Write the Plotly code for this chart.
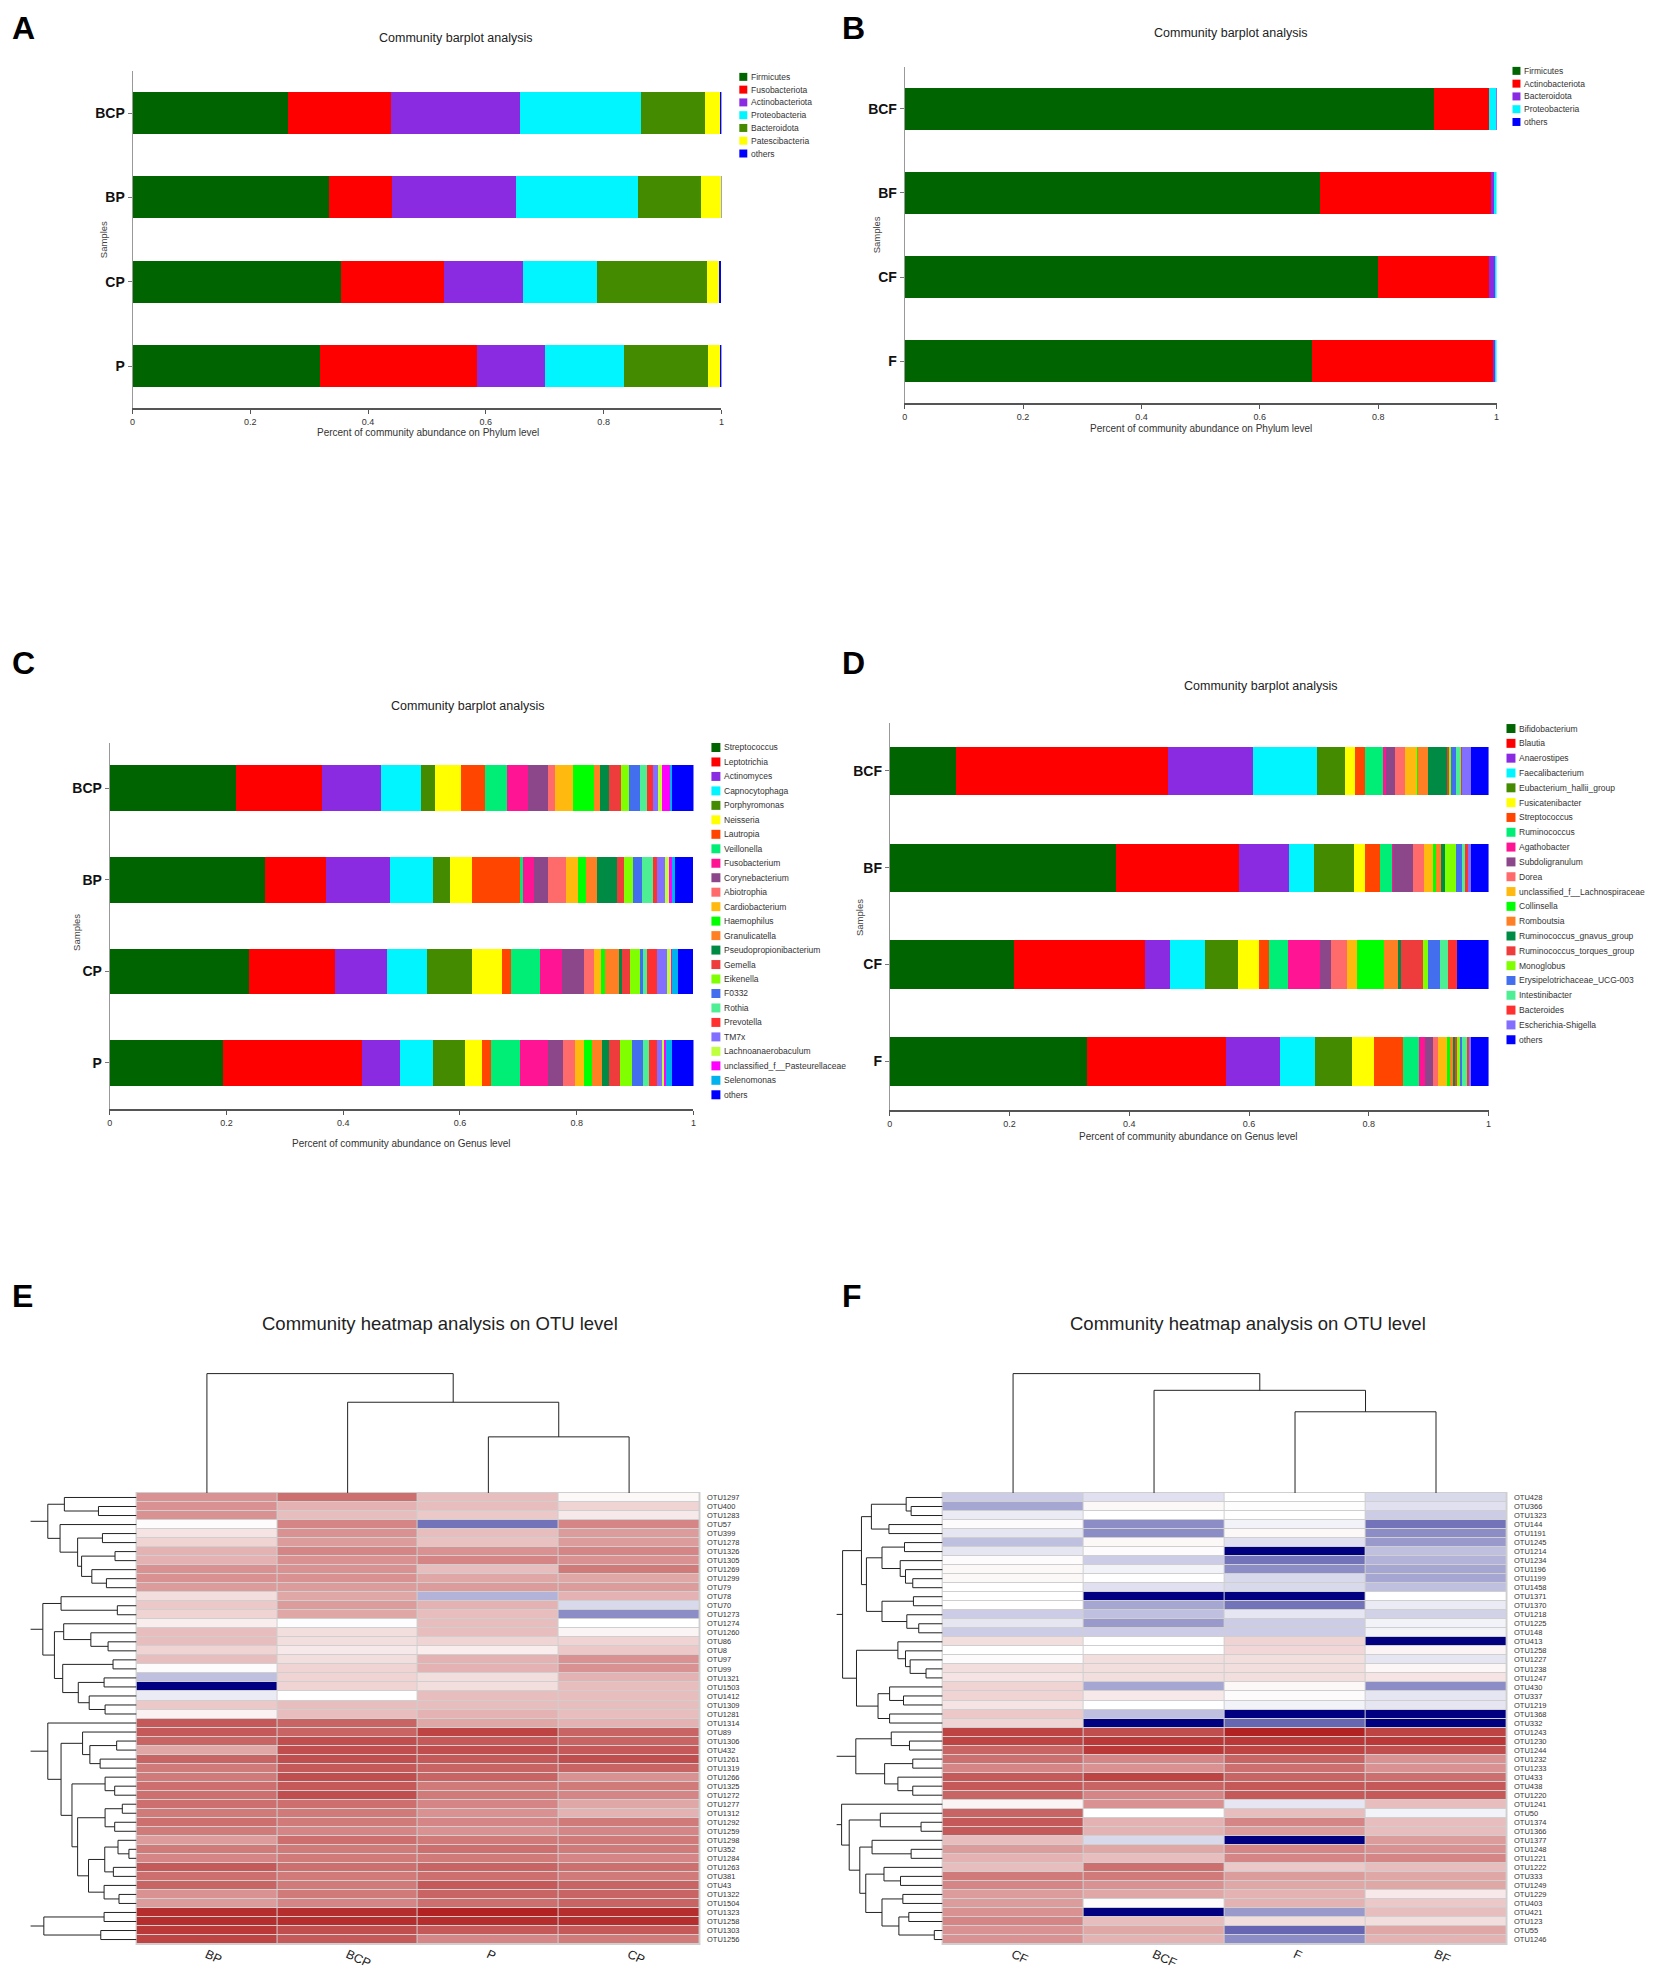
import plotly.graph_objects as go

W, H = 1654, 1979
PAD = 8  # page body margin of the html page
FIG_W, FIG_H = W - 2 * PAD, H - 2 * PAD
NARROW = "Liberation Sans Narrow, Arial Narrow, Liberation Sans, Arial, sans-serif"
SANS = "Liberation Sans, Arial, sans-serif"

# ---------------- data ----------------
# A: phylum level, P group
samples_A = ["BCP", "BP", "CP", "P"]
phyla_A = ["Firmicutes", "Fusobacteriota", "Actinobacteriota", "Proteobacteria",
           "Bacteroidota", "Patescibacteria", "others"]
abund_A = [
    [0.264, 0.175, 0.219, 0.206, 0.108, 0.025, 0.003],
    [0.334, 0.107, 0.211, 0.207, 0.106, 0.034, 0.001],
    [0.354, 0.175, 0.134, 0.126, 0.187, 0.020, 0.004],
    [0.318, 0.267, 0.115, 0.135, 0.142, 0.020, 0.003],
]

# B: phylum level, F group
samples_B = ["BCF", "BF", "CF", "F"]
phyla_B = ["Firmicutes", "Actinobacteriota", "Bacteroidota", "Proteobacteria", "others"]
abund_B = [
    [0.894, 0.093, 0.001, 0.011, 0.001],
    [0.702, 0.288, 0.006, 0.004, 0.000],
    [0.800, 0.188, 0.009, 0.003, 0.000],
    [0.688, 0.307, 0.002, 0.003, 0.000],
]

# C: genus level, P group
samples_C = ["BCP", "BP", "CP", "P"]
genera_C = ["Streptococcus", "Leptotrichia", "Actinomyces", "Capnocytophaga", "Porphyromonas",
            "Neisseria", "Lautropia", "Veillonella", "Fusobacterium", "Corynebacterium",
            "Abiotrophia", "Cardiobacterium", "Haemophilus", "Granulicatella",
            "Pseudopropionibacterium", "Gemella", "Eikenella", "F0332", "Rothia", "Prevotella",
            "TM7x", "Lachnoanaerobaculum", "unclassified_f__Pasteurellaceae", "Selenomonas", "others"]
abund_C = [
    [0.217, 0.147, 0.101, 0.069, 0.024, 0.043, 0.042, 0.037, 0.037, 0.034, 0.012, 0.030, 0.037,
     0.010, 0.016, 0.020, 0.014, 0.018, 0.013, 0.009, 0.009, 0.007, 0.014, 0.004, 0.037],
    [0.266, 0.105, 0.109, 0.073, 0.030, 0.037, 0.083, 0.005, 0.018, 0.024, 0.032, 0.020, 0.014,
     0.019, 0.034, 0.012, 0.015, 0.015, 0.020, 0.007, 0.014, 0.006, 0.006, 0.004, 0.031],
    [0.239, 0.147, 0.089, 0.069, 0.077, 0.051, 0.015, 0.050, 0.037, 0.038, 0.018, 0.011, 0.008,
     0.023, 0.006, 0.014, 0.016, 0.005, 0.008, 0.017, 0.016, 0.007, 0.002, 0.011, 0.025],
    [0.195, 0.237, 0.066, 0.056, 0.055, 0.029, 0.015, 0.050, 0.048, 0.026, 0.020, 0.015, 0.014,
     0.017, 0.013, 0.018, 0.020, 0.020, 0.010, 0.013, 0.009, 0.004, 0.003, 0.010, 0.038],
]

# D: genus level, F group
samples_D = ["BCF", "BF", "CF", "F"]
genera_D = ["Bifidobacterium", "Blautia", "Anaerostipes", "Faecalibacterium",
            "Eubacterium_hallii_group", "Fusicatenibacter", "Streptococcus", "Ruminococcus",
            "Agathobacter", "Subdoligranulum", "Dorea", "unclassified_f__Lachnospiraceae",
            "Collinsella", "Romboutsia", "Ruminococcus_gnavus_group", "Ruminococcus_torques_group",
            "Monoglobus", "Erysipelotrichaceae_UCG-003", "Intestinibacter", "Bacteroides",
            "Escherichia-Shigella", "others"]
abund_D = [
    [0.111, 0.353, 0.142, 0.107, 0.048, 0.016, 0.016, 0.031, 0.004, 0.016, 0.016, 0.021, 0.001,
     0.017, 0.032, 0.003, 0.003, 0.008, 0.010, 0.001, 0.015, 0.030],
    [0.378, 0.205, 0.083, 0.042, 0.067, 0.019, 0.024, 0.022, 0.001, 0.033, 0.018, 0.016, 0.005,
     0.008, 0.006, 0.001, 0.017, 0.011, 0.004, 0.006, 0.004, 0.030],
    [0.208, 0.218, 0.042, 0.058, 0.056, 0.035, 0.016, 0.032, 0.053, 0.019, 0.027, 0.016, 0.046,
     0.024, 0.003, 0.038, 0.008, 0.020, 0.013, 0.015, 0.001, 0.052],
    [0.330, 0.232, 0.090, 0.058, 0.062, 0.037, 0.048, 0.027, 0.010, 0.014, 0.007, 0.015, 0.006,
     0.004, 0.005, 0.003, 0.004, 0.003, 0.010, 0.002, 0.003, 0.031],
]

# E: OTU heatmap, P group (scaled abundance, -1 = low ... 1 = high)
cols_E = ["BP", "BCP", "P", "CP"]
otus_E = ["OTU1297", "OTU400", "OTU1283", "OTU57", "OTU399", "OTU1278", "OTU1326", "OTU1305",
          "OTU1269", "OTU1299", "OTU79", "OTU78", "OTU70", "OTU1273", "OTU1274", "OTU1260",
          "OTU86", "OTU8", "OTU97", "OTU99", "OTU1321", "OTU1503", "OTU1412", "OTU1309",
          "OTU1281", "OTU1314", "OTU89", "OTU1306", "OTU432", "OTU1261", "OTU1319", "OTU1266",
          "OTU1325", "OTU1272", "OTU1277", "OTU1312", "OTU1292", "OTU1259", "OTU1298", "OTU352",
          "OTU1284", "OTU1263", "OTU381", "OTU43", "OTU1322", "OTU1504", "OTU1323", "OTU1258",
          "OTU1303", "OTU1256"]
z_E = [
    [0.50, 0.65, 0.30, 0.03], [0.50, 0.35, 0.30, 0.20], [0.50, 0.30, 0.25, 0.10],
    [0.02, 0.55, -0.55, 0.55], [0.12, 0.50, 0.30, 0.45], [0.20, 0.45, 0.28, 0.45],
    [0.35, 0.55, 0.50, 0.55], [0.35, 0.50, 0.55, 0.50], [0.50, 0.50, 0.30, 0.60],
    [0.50, 0.50, 0.40, 0.40], [0.45, 0.45, 0.45, 0.45], [0.15, 0.40, -0.30, 0.35],
    [0.25, 0.45, 0.35, -0.15], [0.20, 0.40, 0.30, -0.45], [0.08, 0.01, 0.30, 0.00],
    [0.30, 0.15, 0.30, 0.05], [0.30, 0.15, 0.20, 0.20], [0.20, 0.10, 0.08, 0.25],
    [0.30, 0.15, 0.35, 0.50], [0.02, 0.20, 0.35, 0.50], [-0.25, 0.20, 0.15, 0.35],
    [-1.00, 0.20, 0.15, 0.30], [-0.08, 0.00, 0.30, 0.30], [0.25, 0.30, 0.30, 0.30],
    [0.06, 0.30, 0.35, 0.30], [0.75, 0.70, 0.40, 0.35], [0.75, 0.70, 0.85, 0.70],
    [0.70, 0.80, 0.75, 0.70], [0.40, 0.80, 0.80, 0.75], [0.70, 0.80, 0.75, 0.80],
    [0.60, 0.75, 0.70, 0.70], [0.60, 0.80, 0.70, 0.50], [0.65, 0.75, 0.60, 0.60],
    [0.65, 0.80, 0.60, 0.55], [0.65, 0.65, 0.55, 0.40], [0.60, 0.60, 0.50, 0.35],
    [0.65, 0.60, 0.55, 0.60], [0.60, 0.55, 0.50, 0.55], [0.45, 0.65, 0.60, 0.60],
    [0.60, 0.60, 0.65, 0.60], [0.55, 0.60, 0.60, 0.55], [0.75, 0.65, 0.70, 0.65],
    [0.65, 0.60, 0.65, 0.60], [0.70, 0.60, 0.75, 0.70], [0.50, 0.60, 0.70, 0.70],
    [0.45, 0.55, 0.65, 0.70], [0.95, 0.95, 1.00, 0.95], [0.95, 0.95, 0.95, 0.95],
    [0.90, 0.80, 0.75, 0.75], [0.85, 0.75, 0.55, 0.60],
]
# linkage trees: [height, left, right], leaves are row / column indices
coltree_E = [1.0, 0, [0.76, 1, [0.47, 2, 3]]]
rowtrees_E = [
    [268, [218, 0, [115, 1, 2]], [231, 3, [178, [103, 4, 5], [166, [65, 6, 7], [135, 8, [91, 9, 10]]]]]],
    [283, [228, 11, [58, 12, 13]],
     [248, [220, 14, [138, 15, [86, 16, 17]]], [223, [71, 18, 19], [176, [98, 20, 21], [143, 22, [95, 23, 24]]]]]],
    [268, 25, [228, [163, 26, [141, [60, 27, 28], [110, 29, 30]]],
               [195, [95, 31, [66, 32, 33]],
                [178, [95, [43, 34, 35], [66, 36, 37]],
                 [145, [96, [56, 38, [23, 39, 40]], [70, 41, 42]], [98, 43, [53, 44, 45]]]]]]],
    [280, [98, 46, 47], [108, 48, 49]],
]

# F: OTU heatmap, F group
cols_F = ["CF", "BCF", "F", "BF"]
otus_F = ["OTU428", "OTU366", "OTU1323", "OTU144", "OTU1191", "OTU1245", "OTU1214", "OTU1234",
          "OTU1196", "OTU1199", "OTU1458", "OTU1371", "OTU1370", "OTU1218", "OTU1225", "OTU148",
          "OTU413", "OTU1258", "OTU1227", "OTU1238", "OTU1247", "OTU430", "OTU337", "OTU1219",
          "OTU1368", "OTU332", "OTU1243", "OTU1230", "OTU1244", "OTU1232", "OTU1233", "OTU433",
          "OTU438", "OTU1220", "OTU1241", "OTU50", "OTU1374", "OTU1366", "OTU1377", "OTU1248",
          "OTU1221", "OTU1222", "OTU333", "OTU1249", "OTU1229", "OTU403", "OTU421", "OTU123",
          "OTU55", "OTU1246"]
z_F = [
    [-0.20, -0.12, 0.00, -0.15], [-0.35, 0.03, 0.01, -0.12], [-0.08, 0.00, 0.00, -0.20],
    [0.02, -0.45, -0.05, -0.55], [-0.10, -0.45, 0.03, -0.45], [-0.25, 0.03, -0.12, -0.40],
    [-0.10, 0.02, -1.00, -0.25], [0.02, -0.20, -0.55, -0.30], [0.03, -0.05, -0.45, -0.35],
    [0.03, 0.00, -0.15, -0.35], [0.00, -0.12, -0.15, -0.25], [0.00, -1.00, -1.00, 0.00],
    [0.00, -0.35, -0.55, -0.08], [-0.20, -0.25, -0.10, -0.18], [-0.10, -0.40, -0.20, -0.05],
    [-0.20, -0.20, -0.20, -0.05], [0.15, 0.00, 0.20, -1.00], [0.00, 0.00, 0.18, 0.05],
    [0.02, 0.15, 0.15, -0.10], [0.15, 0.15, 0.15, 0.04], [0.12, 0.15, 0.15, 0.12],
    [0.20, -0.35, 0.03, -0.45], [0.20, 0.10, 0.02, -0.10], [0.12, 0.00, -0.05, -0.10],
    [0.25, -0.25, -1.00, -1.00], [0.20, -1.00, -0.60, -1.00], [0.85, 0.80, 1.00, 0.85],
    [0.85, 0.90, 0.90, 0.90], [0.70, 0.90, 0.85, 0.80], [0.65, 0.55, 0.70, 0.50],
    [0.55, 0.50, 0.65, 0.50], [0.75, 0.85, 0.70, 0.65], [0.75, 0.70, 0.75, 0.75],
    [0.70, 0.55, 0.75, 0.75], [0.05, 0.50, -0.10, 0.30], [0.70, 0.00, 0.30, -0.05],
    [0.75, 0.35, 0.55, 0.30], [0.75, 0.35, 0.45, 0.30], [0.30, -0.15, -1.00, 0.45],
    [0.45, 0.40, 0.55, 0.50], [0.35, 0.30, 0.55, 0.55], [0.30, 0.65, 0.25, 0.30],
    [0.60, 0.60, 0.45, 0.40], [0.55, 0.50, 0.40, 0.40], [0.45, 0.40, 0.35, 0.10],
    [0.45, 0.02, 0.35, 0.25], [0.50, -1.00, -0.40, 0.30], [0.55, 0.30, 0.15, 0.15],
    [0.50, 0.40, -0.60, 0.40], [0.50, 0.35, -0.45, 0.35],
]
coltree_F = [1.0, 0, [0.86, 1, [0.68, 2, 3]]]
rowtrees_F = [
    [302, [245, [215, [110, 0, [95, 1, 2]], [162, 3, 4]],
           [230, [183, [115, 5, 6], [128, 7, [112, 8, [90, 9, 10]]]],
                 [183, [88, 11, 12], [108, 13, [72, 14, 15]]]]],
          [260, [135, 16, [112, 17, [98, 18, [50, 19, 20]]]],
                [195, [160, 21, [118, 22, 23]], [160, 24, 25]]]],
    [262, [155, 26, [100, 27, 28]], [175, [90, 29, 30], [135, 31, [90, 32, 33]]]],
    [305, 34, [282, [188, 35, [65, 36, 37]],
                    [250, [213, 38, [95, 39, 40]],
                          [232, [177, 41, [127, 42, 43]], [183, [120, 44, 45], [132, [102, 46, 47], [25, 48, 49]]]]]]],
]
ROW_STUB = 320

# ---------------- styles ----------------
PAL_GENUS = ["#006400", "#FF0000", "#8A2BE2", "#00F5FF", "#458B00", "#FFFF00", "#FF4500",
             "#00EE76", "#FF1493", "#8B4789", "#FF6A6A", "#FFB90F", "#00FF00", "#FF7F24",
             "#008B45", "#EE3B3B", "#7FFF00", "#436EEE", "#4EEE94", "#FF3030", "#836FFF",
             "#C0FF3E", "#FF00FF", "#00B2EE"]
OTHERS = "#0000FF"
colors_A = ["#006400", "#FF0000", "#8A2BE2", "#00F5FF", "#458B00", "#FFFF00", OTHERS]
colors_B = ["#006400", "#FF0000", "#8A2BE2", "#00F5FF", OTHERS]
colors_C = PAL_GENUS + [OTHERS]
colors_D = PAL_GENUS[:21] + [OTHERS]
HEAT_SCALE = [[0, "#000080"], [0.5, "#FFFFFF"], [1, "#B22222"]]


# page pixel -> paper fraction
def fx(px):
    return (px - PAD) / FIG_W


def fy(py):
    return 1 - (py - PAD) / FIG_H


def axkey(kind, n):
    return kind + ("" if n == 1 else str(n))


def aref(kind, n):
    return kind + ("" if n == 1 else str(n))


fig = go.Figure()
shapes = []
annotations = []
layout_axes = {}


def text(x, y, s, size, family=SANS, xanchor="center", yanchor="middle", angle=0, color="#222", bold=False):
    annotations.append(dict(
        x=fx(x), y=fy(y), xref="paper", yref="paper", text=f"<b>{s}</b>" if bold else s,
        showarrow=False, xanchor=xanchor, yanchor=yanchor, textangle=angle,
        font=dict(size=size, family=family, color=color)))


def barplot(n, samples, cats, abund, colors, box, title_xy, xtitle, xtitle_xy, samp_xy, legend_xy, step, sw):
    left, right, top, bottom = box
    for j, cat in enumerate(cats):
        fig.add_trace(go.Bar(
            y=samples, x=[row[j] for row in abund], orientation="h", name=cat,
            marker=dict(color=colors[j], line=dict(width=0)), showlegend=False,
            xaxis=aref("x", n), yaxis=aref("y", n)))
    layout_axes[axkey("xaxis", n)] = dict(
        domain=[fx(left), fx(right)], range=[0, 1], anchor=aref("y", n),
        tickvals=[0, 0.2, 0.4, 0.6, 0.8, 1], ticktext=["0", "0.2", "0.4", "0.6", "0.8", "1"],
        showline=True, linecolor="#555", linewidth=2, ticks="outside", ticklen=4,
        tickcolor="#555", showgrid=False, zeroline=False,
        tickfont=dict(size=9, family=NARROW, color="#333"))
    layout_axes[axkey("yaxis", n)] = dict(
        domain=[fy(bottom), fy(top)], range=[-0.5, 3.5], anchor=aref("x", n),
        categoryorder="array", categoryarray=samples[::-1],
        showline=True, linecolor="#999", linewidth=1, ticks="outside", ticklen=4,
        tickcolor="#777", showgrid=False, zeroline=False,
        tickfont=dict(size=14, family=NARROW, color="#111", weight="bold"))
    text(*title_xy, "Community barplot analysis", 12.5, family=NARROW)
    text(*xtitle_xy, xtitle, 10, family=NARROW, color="#333")
    text(*samp_xy, "Samples", 9.5, family=SANS, color="#444", angle=-90)
    lx, ly = legend_xy
    for j, cat in enumerate(cats):
        cy = ly + j * step
        shapes.append(dict(type="rect", xref="paper", yref="paper",
                           x0=fx(lx), x1=fx(lx + sw), y0=fy(cy + sw / 2), y1=fy(cy - sw / 2),
                           fillcolor=colors[j], line=dict(width=0)))
        text(lx + sw + 1.5, cy, cat, 8.5, family=NARROW, xanchor="left", color="#333")


def walk(node, segs):
    if isinstance(node, int):
        return node, 0.0
    h, a, b = node
    pa, ha = walk(a, segs)
    pb, hb = walk(b, segs)
    segs.append([(pa, ha), (pa, h), (pb, h), (pb, hb)])
    return (pa + pb) / 2, h


def dendro(trees, stub=None):
    segs = []
    for t in trees:
        p, h = walk(t, segs)
        if stub is not None:
            segs.append([(p, h), (p, stub)])
    pos, hts = [], []
    for s in segs:
        for a, b in s:
            pos.append(a)
            hts.append(b)
        pos.append(None)
        hts.append(None)
    return pos, hts


def heatpanel(n, cols, otus, z, coltree, rowtrees, box, title_x):
    left, right, top, bottom = box
    dtop = 1374
    dleft = left - 107
    # grey grid under the cells
    shapes.append(dict(type="rect", xref="paper", yref="paper", layer="below",
                       x0=fx(left - 1), x1=fx(right + 1), y0=fy(bottom + 1), y1=fy(top - 1),
                       fillcolor="#CFCFCF", line=dict(width=0)))
    fig.add_trace(go.Heatmap(
        z=z, x=cols, y=otus, colorscale=HEAT_SCALE, zmin=-1, zmax=1, xgap=1, ygap=1,
        showscale=False, xaxis=aref("x", n), yaxis=aref("y", n)))
    layout_axes[axkey("xaxis", n)] = dict(
        domain=[fx(left), fx(right)], anchor=aref("y", n), type="category", range=[-0.5, 3.5],
        showgrid=False, zeroline=False, showline=False, ticks="", tickangle=25,
        tickfont=dict(size=12.5, family=SANS, color="#222"))
    layout_axes[axkey("yaxis", n)] = dict(
        domain=[fy(bottom), fy(top)], anchor=aref("x", n), type="category",
        autorange="reversed", side="right", showgrid=False, zeroline=False, showline=False,
        tickmode="array", tickvals=otus, ticktext=otus,
        ticks="outside", ticklen=5, tickcolor="rgba(0,0,0,0)",
        tickfont=dict(size=7.5, family=SANS, color="#333"))
    # column dendrogram
    cpos, chts = dendro([coltree])
    fig.add_trace(go.Scatter(x=cpos, y=chts, mode="lines", line=dict(color="#222", width=1),
                             hoverinfo="skip", showlegend=False,
                             xaxis=aref("x", n + 1), yaxis=aref("y", n + 1)))
    layout_axes[axkey("xaxis", n + 1)] = dict(domain=[fx(left), fx(right)], range=[-0.5, 3.5],
                                              visible=False, anchor=aref("y", n + 1))
    layout_axes[axkey("yaxis", n + 1)] = dict(domain=[fy(top), fy(dtop)], range=[0, 1.02],
                                              visible=False, anchor=aref("x", n + 1))
    # row dendrogram
    rpos, rhts = dendro(rowtrees, ROW_STUB)
    fig.add_trace(go.Scatter(x=rhts, y=rpos, mode="lines", line=dict(color="#222", width=1),
                             hoverinfo="skip", showlegend=False,
                             xaxis=aref("x", n + 2), yaxis=aref("y", n + 2)))
    layout_axes[axkey("xaxis", n + 2)] = dict(domain=[fx(dleft), fx(left)], range=[ROW_STUB + 2, 0],
                                              visible=False, anchor=aref("y", n + 2))
    layout_axes[axkey("yaxis", n + 2)] = dict(domain=[fy(bottom), fy(top)],
                                              range=[len(otus) - 0.5, -0.5],
                                              visible=False, anchor=aref("x", n + 2))
    text(title_x, 1326, "Community heatmap analysis on OTU level", 18.5, family=SANS, color="#222")


barplot(1, samples_A, phyla_A, abund_A, colors_A, (130, 721, 71, 409), (455, 38),
        "Percent of community abundance on Phylum level", (427, 433), (101, 240), (739, 77), 12.8, 8)
barplot(2, samples_B, phyla_B, abund_B, colors_B, (905, 1499, 67, 404), (1232, 33),
        "Percent of community abundance on Phylum level", (1202, 429), (877, 235), (1515, 71), 12.8, 8)
barplot(3, samples_C, genera_C, abund_C, colors_C, (107, 693, 744, 1111), (467, 707),
        "Percent of community abundance on Genus level", (399, 1146), (73, 934), (711, 749), 14.5, 9)
barplot(4, samples_D, genera_D, abund_D, colors_D, (890, 1491, 724, 1112), (1263, 687),
        "Percent of community abundance on Genus level", (1189, 1139), (859, 919), (1509, 730), 14.85, 9)

heatpanel(5, cols_E, otus_E, z_E, coltree_E, rowtrees_E, (134, 699, 1496, 1948), 439)
heatpanel(8, cols_F, otus_F, z_F, coltree_F, rowtrees_F, (943, 1509, 1496, 1948), 1250)

for letter, x, y in [("A", 7, 8), ("B", 840, 8), ("C", 7, 644), ("D", 840, 644),
                     ("E", 7, 1279), ("F", 840, 1279)]:
    text(x, y, letter, 32, family=SANS, xanchor="left", yanchor="top", color="#000", bold=True)

fig.update_layout(
    width=FIG_W, height=FIG_H, margin=dict(l=0, r=0, t=0, b=0),
    paper_bgcolor="white", plot_bgcolor="white",
    barmode="stack", bargap=0.5, showlegend=False,
    shapes=shapes, annotations=annotations, **layout_axes)

fig.write_html("out.html")
